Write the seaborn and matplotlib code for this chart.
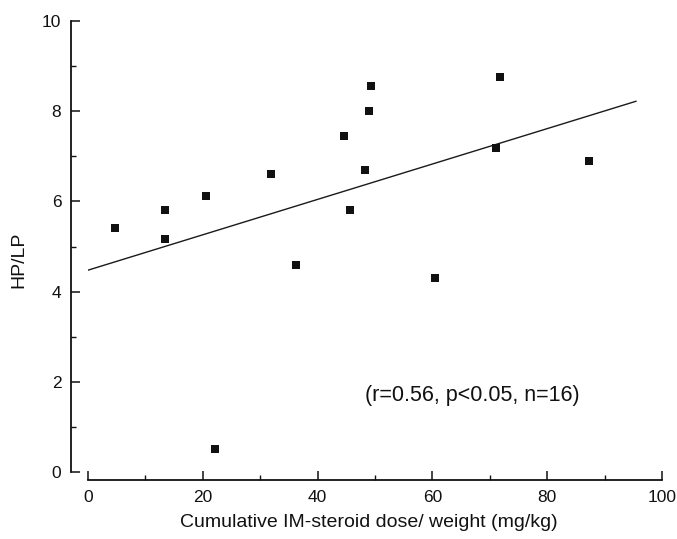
import numpy as np
import pandas as pd
import matplotlib
matplotlib.use("Agg")
import matplotlib.pyplot as plt
from matplotlib.ticker import MultipleLocator
import seaborn as sns

# Cumulative IM-steroid dose per body weight (mg/kg) and HP/LP ratio
dose = [4.65, 13.5, 13.5, 20.5, 31.95, 36.2, 22.2, 49.3,
        48.9, 44.6, 48.2, 45.6, 71.7, 71.1, 87.2, 60.5]
hp_lp = [5.40, 5.82, 5.16, 6.12, 6.60, 4.60, 0.52, 8.56,
         8.00, 7.46, 6.69, 5.80, 8.76, 7.18, 6.89, 4.31]

# Extent of the fitted line along the dose axis
fit_range = [0.0, 95.5]

x_ticks = [0, 20, 40, 60, 80, 100]
y_ticks = [0, 2, 4, 6, 8, 10]
stats_text = "(r=0.56, p<0.05, n=16)"

sns.set_theme(style="ticks")
plt.rcParams["font.family"] = ["Liberation Sans", "DejaVu Sans"]

df = pd.DataFrame({"dose": dose, "hp_lp": hp_lp})
slope, intercept = np.polyfit(df["dose"], df["hp_lp"], 1)
fit = pd.DataFrame({"dose": fit_range})
fit["hp_lp"] = intercept + slope * fit["dose"]

fig = plt.figure(figsize=(6.77, 5.39), dpi=100)
ax = fig.add_axes([88 / 677, 67 / 539, 574 / 677, 451 / 539])

sns.lineplot(data=fit, x="dose", y="hp_lp", ax=ax, color="#1a1a1a",
             linewidth=1.0)
sns.scatterplot(data=df, x="dose", y="hp_lp", ax=ax, marker="s", s=34,
                color="#111111", linewidth=0, zorder=3)

ax.set_xlim(0, 100)
ax.set_ylim(0, 10)
ax.set_xticks(x_ticks)
ax.set_yticks(y_ticks)
ax.xaxis.set_minor_locator(MultipleLocator(10))
ax.yaxis.set_minor_locator(MultipleLocator(1))
ax.tick_params(which="major", direction="in", length=6.5, width=1.1,
               labelsize=12.5, colors="#111111", pad=7)
ax.tick_params(which="minor", direction="in", length=3.5, width=1.0,
               colors="#111111")

sns.despine(ax=ax)
ax.spines["left"].set_position(("outward", 12.2))
ax.spines["bottom"].set_position(("outward", 5.8))
for side in ("left", "bottom"):
    ax.spines[side].set_linewidth(1.3)
    ax.spines[side].set_color("#111111")

ax.set_xlabel("Cumulative IM-steroid dose/ weight (mg/kg)", fontsize=14,
              color="#111111")
ax.set_ylabel("HP/LP", fontsize=14, color="#111111")
ax.xaxis.set_label_coords(0.4895, -0.113)
ax.yaxis.set_label_coords(-0.121, 0.47)
ax.xaxis.label.set_va("center")
ax.yaxis.label.set_va("center")

ax.text(0.669, 0.17, stats_text, transform=ax.transAxes, fontsize=15.5,
        ha="center", va="center", color="#111111")

fig.savefig("out.png", dpi=100)
